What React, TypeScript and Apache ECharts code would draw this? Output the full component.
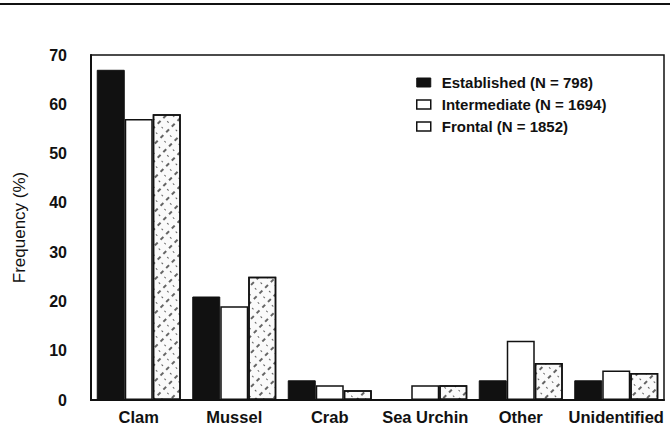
import React, { useEffect, useRef } from "react";
import * as echarts from "echarts";

const categories = ["Clam", "Mussel", "Crab", "Sea Urchin", "Other", "Unidentified"];
const seriesNames = ["Established (N = 798)", "Intermediate (N = 1694)", "Frontal (N = 1852)"];
const established = [67, 21, 4, 0, 4, 4];
const intermediate = [57, 19, 3, 3, 12, 6];
const frontal = [58, 25, 2, 3, 7.5, 5.5];
const yTicks = [0, 10, 20, 30, 40, 50, 60, 70];

export default function App() {
  const ref = useRef<HTMLDivElement>(null);
  useEffect(() => {
    document.body.style.margin = "0";
    const chart = echarts.init(ref.current!, null, { renderer: "svg" });
    const font = "'Liberation Sans', Arial, sans-serif";
    chart.setOption({
      animation: false,
      backgroundColor: "#fff",
      grid: {
        left: 91,
        right: 6,
        top: 55,
        bottom: 29,
        show: true,
        borderColor: "#111",
        borderWidth: 1.5,
      },
      legend: {
        orient: "vertical",
        left: 411,
        top: 70,
        icon: "rect",
        itemWidth: 14,
        itemHeight: 9,
        itemGap: 7,
        textStyle: { fontFamily: font, fontWeight: "bold", fontSize: 15, color: "#111", lineHeight: 15, padding: [0, 0, 0, 6] },
        data: [
          { name: seriesNames[0], itemStyle: { color: "#111", borderColor: "#111", borderWidth: 1 } },
          { name: seriesNames[1], itemStyle: { color: "#fff", borderColor: "#111", borderWidth: 1.5 } },
          { name: seriesNames[2], itemStyle: { color: "#fff", borderColor: "#111", borderWidth: 1.5, decal: "none" } },
        ],
      },
      xAxis: {
        type: "category",
        data: categories,
        axisLine: { lineStyle: { color: "#111", width: 2 } },
        axisTick: { show: false },
        axisLabel: { interval: 0, fontFamily: font, fontWeight: "bold", fontSize: 16.5, color: "#111", margin: 8 },
      },
      yAxis: {
        type: "value",
        min: yTicks[0],
        max: yTicks[yTicks.length - 1],
        interval: 10,
        name: "Frequency (%)",
        nameLocation: "middle",
        nameGap: 63,
        nameTextStyle: { fontFamily: font, fontSize: 17, color: "#111" },
        axisLine: { show: true, lineStyle: { color: "#111", width: 2 } },
        axisTick: { show: false },
        splitLine: { show: false },
        axisLabel: { fontFamily: font, fontWeight: "bold", fontSize: 16, color: "#111", margin: 24 },
      },
      series: [
        {
          name: seriesNames[0],
          type: "bar",
          data: established,
          barWidth: 28,
          barGap: "0%",
          itemStyle: { color: "#111", borderColor: "#111", borderWidth: 1 },
        },
        {
          name: seriesNames[1],
          type: "bar",
          data: intermediate,
          barWidth: 28,
          barGap: "0%",
          itemStyle: { color: "#fff", borderColor: "#111", borderWidth: 1.5 },
        },
        {
          name: seriesNames[2],
          type: "bar",
          data: frontal,
          barWidth: 28,
          barGap: "0%",
          itemStyle: {
            color: "#fafafa",
            borderColor: "#111",
            borderWidth: 1.5,
            decal: {
              symbol: "rect",
              color: "rgba(0,0,0,0.6)",
              dashArrayX: [[4, 4], [1, 7]],
              dashArrayY: [1.2, 3.5],
              rotation: -Math.PI / 4,
              symbolSize: 1,
            },
          },
        },
      ],
      graphic: [
        {
          type: "line",
          shape: { x1: 0, y1: 4, x2: 670, y2: 4 },
          style: { stroke: "#111", lineWidth: 2 },
        },
      ],
    });
    return () => chart.dispose();
  }, []);
  return <div ref={ref} style={{ width: 670, height: 429 }} />;
}
